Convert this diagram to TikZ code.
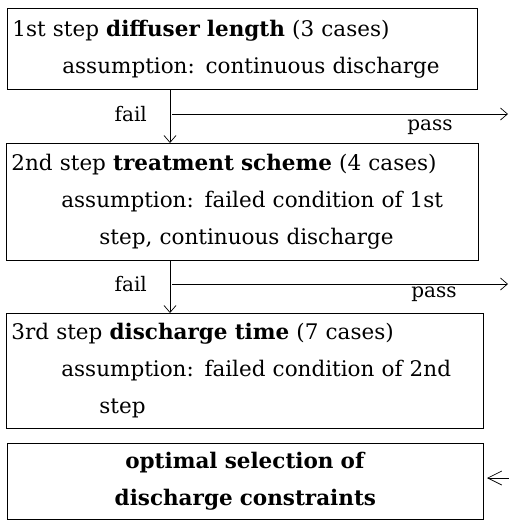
\documentclass[tikz,border=0pt]{standalone}
\usepackage{fontspec}
\setmainfont{DejaVu Serif}
\usetikzlibrary{arrows.meta}

\tikzset{
  stepbox/.style={draw, line width=0.8pt, anchor=north west, inner xsep=5pt, inner ysep=0pt,
    font=\fontsize{21.5}{37}\selectfont},
  flow/.style={line width=0.7pt, -{Straight Barb[length=7pt,width=12pt]}},
  lbl/.style={font=\fontsize{20}{22}\selectfont, inner sep=0pt}
}

\begin{document}
\begin{tikzpicture}[x=1pt,y=-1pt]
  \useasboundingbox (0,0) rectangle (509,520);

  % the four boxes
  \node[stepbox, align=left, text width=460pt, minimum height=81pt] (s1) at (7,8)
    {1st step \textbf{diffuser length} (3 cases)\\
     \hspace*{50pt}assumption: continuous discharge};
  \node[stepbox, align=left, text width=462pt, minimum height=117pt] (s2) at (6,143)
    {2nd step \textbf{treatment scheme} (4 cases)\\
     \hspace*{50pt}assumption: failed condition of 1st\\
     \hspace*{88pt}step, continuous discharge};
  \node[stepbox, align=left, text width=467pt, minimum height=115pt] (s3) at (6,313)
    {3rd step \textbf{discharge time} (7 cases)\\
     \hspace*{50pt}assumption: failed condition of 2nd\\
     \hspace*{88pt}step};
  \node[stepbox, align=center, text width=466pt, minimum height=76pt] (s4) at (7,443)
    {\textbf{optimal selection of}\\ \textbf{discharge constraints}};

  % fail / pass branches
  \coordinate (x1) at (170,0);
  \coordinate (out1) at (508,114);
  \coordinate (out2) at (508,284);
  \coordinate (in4) at (509,478);
  \coordinate (tip4) at (487,478);

  \draw[flow] (s1.south -| x1) -- (s2.north -| x1);
  \draw[flow] (s2.south -| x1) -- (s3.north -| x1);
  \draw[flow] (out1 -| x1) ++(2,0) -- (out1);
  \draw[flow] (out2 -| x1) ++(2,0) -- (out2);
  \draw[line width=0.7pt, -{Straight Barb[length=14pt,width=14pt]}] (in4) -- (tip4);

  \node[lbl, anchor=east] (fail1) at (147,114) {fail};
  \node[lbl] (pass1) at (430,127) {pass};
  \node[lbl, anchor=east] (fail2) at (147,284) {fail};
  \node[lbl] (pass2) at (434,294) {pass};
\end{tikzpicture}
\end{document}
